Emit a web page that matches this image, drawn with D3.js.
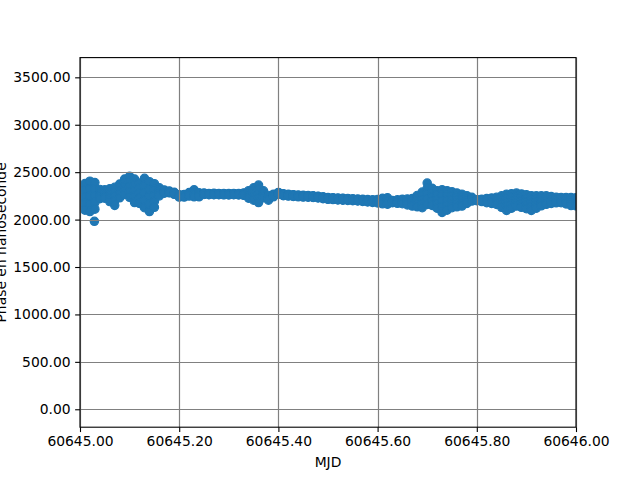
<!DOCTYPE html>
<html>
<head>
<meta charset="utf-8">
<script src="https://cdn.jsdelivr.net/npm/d3@7"></script>
<style>
  html, body { margin: 0; padding: 0; background: #ffffff; }
  svg { display: block; }
  text { font-family: "DejaVu Sans", sans-serif; }
</style>
</head>
<body>
<svg id="chart" width="640" height="480"></svg>
<script>
// ---- data: phase samples at each MJD, from the top of the band to its bottom ----
const mjd = [
  60645.00,60645.01,60645.02,60645.03,60645.04,60645.05,60645.06,60645.07,60645.08,60645.09,
  60645.10,60645.11,60645.12,60645.13,60645.14,60645.15,60645.16,60645.17,60645.18,60645.19,
  60645.20,60645.21,60645.22,60645.23,60645.24,60645.25,60645.26,60645.27,60645.28,60645.29,
  60645.30,60645.31,60645.32,60645.33,60645.34,60645.35,60645.36,60645.37,60645.38,60645.39,
  60645.40,60645.41,60645.42,60645.43,60645.44,60645.45,60645.46,60645.47,60645.48,60645.49,
  60645.50,60645.51,60645.52,60645.53,60645.54,60645.55,60645.56,60645.57,60645.58,60645.59,
  60645.60,60645.61,60645.62,60645.63,60645.64,60645.65,60645.66,60645.67,60645.68,60645.69,
  60645.70,60645.71,60645.72,60645.73,60645.74,60645.75,60645.76,60645.77,60645.78,60645.79,
  60645.80,60645.81,60645.82,60645.83,60645.84,60645.85,60645.86,60645.87,60645.88,60645.89,
  60645.90,60645.91,60645.92,60645.93,60645.94,60645.95,60645.96,60645.97,60645.98,60645.99,
  60646.00
];
const phaseHigh = [
  2339,2380,2405,2390,2318,2314,2325,2340,2375,2428,
  2456,2428,2385,2435,2400,2378,2335,2312,2300,2287,
  2262,2265,2285,2314,2282,2279,2276,2277,2276,2274,
  2275,2276,2274,2280,2305,2335,2364,2303,2255,2268,
  2286,2272,2266,2262,2258,2256,2254,2251,2246,2240,
  2233,2231,2228,2226,2223,2219,2216,2213,2211,2209,
  2212,2225,2230,2200,2208,2215,2218,2222,2255,2290,
  2385,2330,2305,2314,2305,2293,2280,2268,2252,2235,
  2210,2215,2222,2228,2235,2250,2268,2272,2279,2270,
  2262,2252,2250,2250,2250,2243,2236,2233,2233,2233,
  2230
];
const phaseUpper = [
  2286,2310,2325,2320,2294,2292,2291,2293,2339,2387,
  2401,2366,2331,2358,2321,2316,2314,2304,2296,2282,
  2256,2258,2276,2296,2272,2276,2273,2273,2273,2271,
  2271,2273,2271,2274,2285,2303,2318,2285,2243,2261,
  2281,2267,2262,2258,2254,2252,2250,2247,2242,2235,
  2228,2226,2223,2221,2218,2214,2211,2208,2205,2202,
  2203,2210,2213,2195,2199,2203,2202,2202,2225,2249,
  2329,2285,2259,2254,2254,2251,2244,2237,2232,2225,
  2208,2209,2211,2214,2216,2220,2225,2234,2245,2235,
  2225,2213,2218,2224,2228,2225,2221,2220,2216,2212,
  2209
];
const phaseMid = [
  2233,2240,2245,2250,2269,2270,2258,2245,2303,2347,
  2346,2304,2278,2281,2243,2254,2293,2295,2291,2277,
  2250,2252,2267,2277,2261,2272,2270,2270,2269,2268,
  2268,2269,2267,2268,2265,2270,2272,2267,2230,2254,
  2277,2262,2257,2253,2249,2247,2245,2242,2237,2230,
  2224,2221,2218,2215,2213,2209,2206,2202,2199,2195,
  2194,2196,2196,2189,2190,2192,2187,2183,2195,2208,
  2273,2240,2213,2195,2203,2210,2208,2206,2211,2215,
  2205,2203,2201,2199,2198,2190,2183,2196,2211,2200,
  2189,2175,2185,2198,2206,2207,2207,2206,2199,2191,
  2188
];
const phaseLower = [
  2179,2170,2165,2180,2245,2247,2224,2198,2266,2306,
  2290,2242,2224,2203,2164,2192,2271,2287,2287,2272,
  2244,2245,2257,2259,2251,2269,2266,2266,2266,2264,
  2264,2266,2264,2262,2245,2238,2226,2248,2218,2247,
  2272,2257,2253,2249,2245,2243,2241,2238,2233,2225,
  2219,2216,2212,2210,2207,2204,2201,2197,2192,2188,
  2185,2181,2179,2184,2181,2180,2171,2163,2165,2167,
  2216,2195,2166,2135,2151,2168,2171,2174,2191,2205,
  2203,2196,2190,2185,2179,2160,2140,2158,2177,2165,
  2152,2136,2153,2171,2183,2188,2192,2193,2182,2169,
  2166
];
const phaseLow = [
  2126,2100,2085,2110,2220,2225,2190,2150,2230,2265,
  2235,2180,2170,2126,2085,2130,2250,2278,2282,2267,
  2238,2238,2248,2240,2240,2265,2263,2262,2262,2261,
  2260,2262,2260,2256,2225,2205,2180,2230,2205,2240,
  2267,2252,2248,2244,2240,2238,2236,2233,2228,2220,
  2214,2211,2207,2204,2202,2199,2196,2191,2186,2181,
  2176,2166,2162,2178,2172,2168,2155,2143,2135,2126,
  2160,2150,2120,2075,2100,2126,2135,2143,2170,2195,
  2200,2190,2179,2170,2160,2130,2097,2120,2143,2130,
  2115,2097,2120,2145,2161,2170,2177,2179,2165,2148,
  2145
];
const outlierMjd = [60645.029];
const outlierPhase = [1982];

const xTicks = [60645.0, 60645.2, 60645.4, 60645.6, 60645.8, 60646.0];
const yTicks = [0, 500, 1000, 1500, 2000, 2500, 3000, 3500];
const xDomain = [60645.0, 60646.0];
const yDomain = [-189, 3708];
const xLabel = "MJD";
const yLabel = "Phase en nanoseconde";

// ---- layout ----
const L = 80, R = 576, T = 57.6, B = 427.2;
const fontPx = 13.89;
const color = "#1f77b4";

const svg = d3.select("#chart");
const x = d3.scaleLinear().domain(xDomain).range([L, R]);
const y = d3.scaleLinear().domain(yDomain).range([B, T]);

svg.append("defs").append("clipPath").attr("id", "clip")
  .append("rect").attr("x", L).attr("y", T).attr("width", R - L).attr("height", B - T);

const data = [];
[phaseHigh, phaseUpper, phaseMid, phaseLower, phaseLow].forEach(series => {
  mjd.forEach((m, i) => data.push({ m, p: series[i] }));
});
outlierMjd.forEach((m, i) => data.push({ m, p: outlierPhase[i] }));
data.sort((a, b) => a.m - b.m);

// points
svg.append("g").attr("clip-path", "url(#clip)")
  .selectAll("circle").data(data).join("circle")
  .attr("cx", d => x(d.m))
  .attr("cy", d => y(d.p))
  .attr("r", 4.17)
  .attr("fill", color)
  .attr("stroke", color)
  .attr("stroke-width", 1.2);

// grid (drawn above points, as matplotlib does)
const grid = svg.append("g").attr("stroke", "#808080").attr("stroke-width", 1.2).attr("fill", "none");
grid.selectAll("line.gx").data(xTicks).join("line").attr("class", "gx")
  .attr("x1", d => Math.round(x(d)) + 0.5).attr("x2", d => Math.round(x(d)) + 0.5)
  .attr("y1", T).attr("y2", B);
grid.selectAll("line.gy").data(yTicks).join("line").attr("class", "gy")
  .attr("y1", d => Math.round(y(d)) + 0.5).attr("y2", d => Math.round(y(d)) + 0.5)
  .attr("x1", L).attr("x2", R);

// axes via d3.axis
const fmt = d3.format(".2f");
const xAxis = d3.axisBottom(x).tickValues(xTicks).tickFormat(fmt).tickSize(4.86).tickPadding(4.5);
const yAxis = d3.axisLeft(y).tickValues(yTicks).tickFormat(fmt).tickSize(4.86).tickPadding(4.5);

const gx = svg.append("g").attr("transform", `translate(0,${B})`).call(xAxis);
const gy = svg.append("g").attr("transform", `translate(${L},0)`).call(yAxis);
[gx, gy].forEach(g => {
  g.select(".domain").remove();
  g.selectAll(".tick line").attr("stroke", "#000").attr("stroke-width", 1.1);
  g.selectAll(".tick text").attr("fill", "#000").style("font-size", fontPx + "px")
    .style("font-family", "'DejaVu Sans', sans-serif");
});

// frame
svg.append("rect").attr("x", L).attr("y", T).attr("width", R - L).attr("height", B - T)
  .attr("fill", "none").attr("stroke", "#000").attr("stroke-width", 1.1);

// labels
svg.append("text").attr("x", (L + R) / 2).attr("y", 467)
  .attr("text-anchor", "middle").style("font-size", fontPx + "px").text(xLabel);
svg.append("text").attr("transform", `translate(5.5,${(T + B) / 2}) rotate(-90)`)
  .attr("text-anchor", "middle").style("font-size", fontPx + "px").text(yLabel);
</script>
</body>
</html>
